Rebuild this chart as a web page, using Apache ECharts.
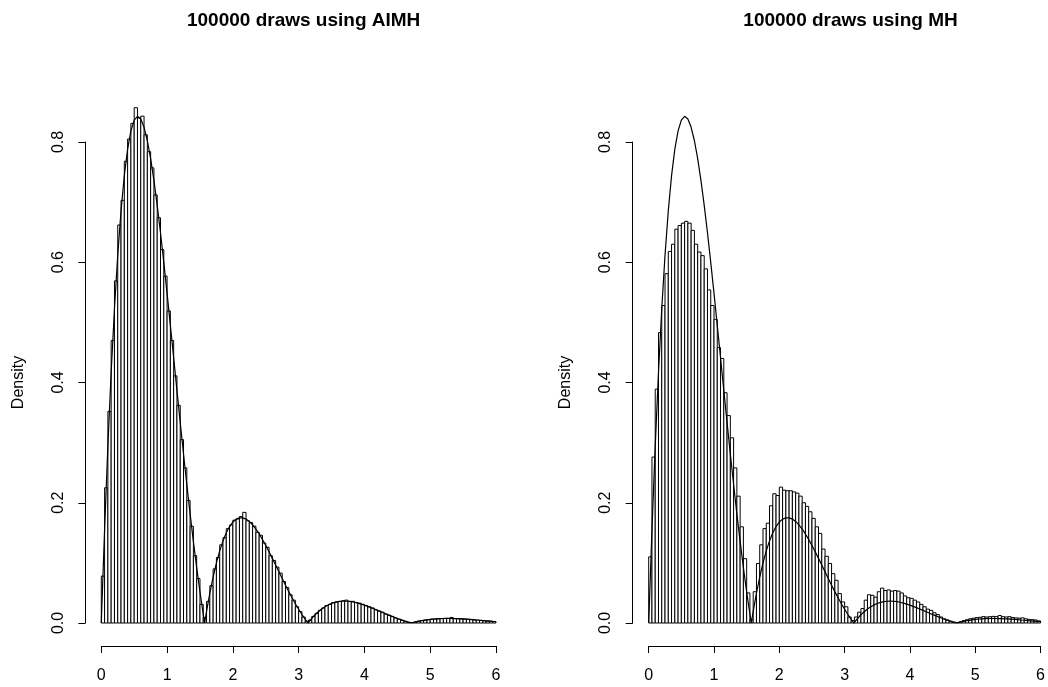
<!DOCTYPE html>
<html>
<head>
<meta charset="utf-8">
<script src="https://cdn.jsdelivr.net/npm/echarts@6/dist/echarts.min.js"></script>
<style>
  html, body { margin: 0; padding: 0; background: #ffffff; }
  #chart { width: 1048px; height: 687px; }
</style>
</head>
<body>
<div id="chart"></div>
<script>
// Histogram bins: 120 bins of width 0.05 covering [0, 6]
const binWidth = 0.05;
const binStart = 0;

// Panel titles and axis text
const panelTitles = ['100000 draws using AIMH', '100000 draws using MH'];
const yAxisName = 'Density';
const xTicks = [0, 1, 2, 3, 4, 5, 6];
const yTicks = [0, 0.2, 0.4, 0.6, 0.8];

// Bin densities of the AIMH sample
const aimhDensity = [
  0.078, 0.225, 0.352, 0.470, 0.569, 0.662, 0.703, 0.768, 0.805, 0.831,
  0.857, 0.840, 0.843, 0.812, 0.784, 0.757, 0.712, 0.674, 0.621, 0.577,
  0.519, 0.470, 0.411, 0.362, 0.305, 0.258, 0.204, 0.161, 0.112, 0.074,
  0.031, 0.009, 0.036, 0.062, 0.090, 0.109, 0.130, 0.142, 0.157, 0.163,
  0.171, 0.173, 0.177, 0.184, 0.170, 0.167, 0.161, 0.151, 0.146, 0.133,
  0.126, 0.112, 0.104, 0.093, 0.083, 0.069, 0.059, 0.047, 0.038, 0.027,
  0.019, 0.010, 0.003, 0.005, 0.011, 0.016, 0.021, 0.025, 0.029, 0.031,
  0.034, 0.035, 0.036, 0.037, 0.038, 0.036, 0.036, 0.034, 0.033, 0.031,
  0.029, 0.027, 0.025, 0.022, 0.020, 0.018, 0.015, 0.013, 0.011, 0.0085,
  0.0065, 0.0046, 0.0028, 0.0012, 0.0008, 0.0018, 0.0031, 0.0040, 0.0049, 0.0056,
  0.0063, 0.0068, 0.0071, 0.0075, 0.0076, 0.0077, 0.0092, 0.0074, 0.0073, 0.0069,
  0.0066, 0.0062, 0.0057, 0.0053, 0.0048, 0.0044, 0.0039, 0.0034, 0.0029, 0.0023
];

// Bin densities of the MH sample
const mhDensity = [
  0.110, 0.276, 0.389, 0.483, 0.528, 0.581, 0.618, 0.630, 0.655, 0.661,
  0.665, 0.668, 0.665, 0.653, 0.630, 0.617, 0.611, 0.589, 0.554, 0.528,
  0.505, 0.458, 0.440, 0.383, 0.345, 0.308, 0.258, 0.211, 0.160, 0.107,
  0.050, 0.006, 0.052, 0.099, 0.130, 0.157, 0.166, 0.195, 0.215, 0.212,
  0.226, 0.221, 0.220, 0.220, 0.218, 0.216, 0.211, 0.200, 0.194, 0.185,
  0.174, 0.160, 0.149, 0.123, 0.111, 0.099, 0.082, 0.071, 0.049, 0.035,
  0.027, 0.010, 0.004, 0.010, 0.018, 0.024, 0.038, 0.047, 0.046, 0.043,
  0.052, 0.058, 0.054, 0.055, 0.053, 0.054, 0.053, 0.050, 0.045, 0.042,
  0.041, 0.038, 0.035, 0.031, 0.027, 0.023, 0.021, 0.017, 0.014, 0.010,
  0.007, 0.005, 0.003, 0.0015, 0.0006, 0.002, 0.004, 0.0055, 0.007, 0.008,
  0.009, 0.0095, 0.0105, 0.010, 0.0105, 0.011, 0.0105, 0.0125, 0.0105, 0.010,
  0.0105, 0.009, 0.0085, 0.008, 0.0085, 0.007, 0.006, 0.0055, 0.005, 0.0035
];

// Target density curve (x positions and heights)
const curveX = [
  0, 0.05, 0.1, 0.15, 0.2, 0.25, 0.3, 0.35, 0.4, 0.45,
  0.5, 0.55, 0.6, 0.65, 0.7, 0.75, 0.8, 0.85, 0.9, 0.95,
  1.0, 1.05, 1.1, 1.15, 1.2, 1.25, 1.3, 1.35, 1.4, 1.45,
  1.5, 1.55, 1.571, 1.6, 1.65, 1.7, 1.75, 1.8, 1.85, 1.9, 1.95,
  2.0, 2.05, 2.1, 2.15, 2.2, 2.25, 2.3, 2.35, 2.4, 2.45,
  2.5, 2.55, 2.6, 2.65, 2.7, 2.75, 2.8, 2.85, 2.9, 2.95,
  3.0, 3.05, 3.1, 3.142, 3.15, 3.2, 3.25, 3.3, 3.35, 3.4, 3.45,
  3.5, 3.55, 3.6, 3.65, 3.7, 3.75, 3.8, 3.85, 3.9, 3.95,
  4.0, 4.05, 4.1, 4.15, 4.2, 4.25, 4.3, 4.35, 4.4, 4.45,
  4.5, 4.55, 4.6, 4.65, 4.7, 4.712, 4.75, 4.8, 4.85, 4.9, 4.95,
  5.0, 5.05, 5.1, 5.15, 5.2, 5.25, 5.3, 5.35, 5.4, 5.45,
  5.5, 5.55, 5.6, 5.65, 5.7, 5.75, 5.8, 5.85, 5.9, 5.95, 6.0
];
const curveY = [
  0, 0.1556, 0.2946, 0.4169, 0.5226, 0.6120, 0.6856, 0.7441, 0.7881, 0.8186,
  0.8365, 0.8427, 0.8384, 0.8245, 0.8021, 0.7723, 0.7361, 0.6947, 0.6490, 0.5998,
  0.5483, 0.4951, 0.4411, 0.3870, 0.3334, 0.2810, 0.2303, 0.1816, 0.1354, 0.0920,
  0.0516, 0.0145, 0, 0.0193, 0.0497, 0.0765, 0.0999, 0.1199, 0.1365, 0.1500, 0.1604,
  0.1679, 0.1727, 0.1749, 0.1749, 0.1728, 0.1689, 0.1633, 0.1563, 0.1481, 0.1390,
  0.1290, 0.1185, 0.1075, 0.0964, 0.0851, 0.0739, 0.0629, 0.0522, 0.0419, 0.0321,
  0.0228, 0.0141, 0.0061, 0, 0.0012, 0.0078, 0.0137, 0.0188, 0.0233, 0.0270, 0.0301,
  0.0325, 0.0343, 0.0355, 0.0362, 0.0364, 0.0362, 0.0355, 0.0345, 0.0331, 0.0315,
  0.0297, 0.0277, 0.0256, 0.0233, 0.0210, 0.0187, 0.0163, 0.0140, 0.0118, 0.0096,
  0.0075, 0.0055, 0.0037, 0.0019, 0.0004, 0, 0.0011, 0.0024, 0.0035, 0.0045, 0.0053,
  0.0060, 0.0066, 0.0070, 0.0073, 0.0075, 0.0076, 0.0075, 0.0074, 0.0073, 0.0070,
  0.0067, 0.0063, 0.0059, 0.0055, 0.0050, 0.0046, 0.0041, 0.0036, 0.0031, 0.0026, 0.0022
];

const FONT = 'Liberation Sans, Arial, Helvetica, sans-serif';

// [left edge, right edge, density] rows for the custom histogram series
function binRows(densities) {
  return densities.map((d, i) => [binStart + i * binWidth, binStart + (i + 1) * binWidth, d]);
}
const curveData = curveX.map((x, i) => [x, curveY[i]]);

function renderBin(params, api) {
  const topLeft = api.coord([api.value(0), api.value(2)]);
  const bottomRight = api.coord([api.value(1), 0]);
  return {
    type: 'rect',
    shape: {
      x: topLeft[0],
      y: topLeft[1],
      width: bottomRight[0] - topLeft[0],
      height: bottomRight[1] - topLeft[1]
    },
    style: { fill: '#ffffff', stroke: '#000000', lineWidth: 1 }
  };
}

// Plot regions (pixel layout of the two panels)
const panels = [
  { left: 101.3, width: 394.7 },
  { left: 648.7, width: 393.6 }
];
const plotTop = 142;
const plotHeight = 481;

const grids = panels.map(p => ({
  left: p.left, width: p.width, top: plotTop, height: plotHeight, containLabel: false
}));

const xAxes = panels.map((p, i) => ({
  type: 'value', gridIndex: i, min: xTicks[0], max: xTicks[xTicks.length - 1], interval: 1,
  offset: 23,
  axisLine: { show: true, onZero: false, lineStyle: { color: '#000', width: 1 } },
  axisTick: { show: true, length: 7, lineStyle: { color: '#000', width: 1 } },
  axisLabel: { color: '#000', fontSize: 16, fontFamily: FONT, margin: 22 },
  splitLine: { show: false }
}));

const yAxes = panels.map((p, i) => ({
  type: 'value', gridIndex: i, min: yTicks[0], max: yTicks[yTicks.length - 1], interval: 0.2,
  offset: 16,
  name: yAxisName, nameLocation: 'middle', nameGap: 59, nameRotate: 90,
  nameTextStyle: { color: '#000', fontSize: 16, fontFamily: FONT },
  axisLine: { show: true, onZero: false, lineStyle: { color: '#000', width: 1 } },
  axisTick: { show: true, length: 7, lineStyle: { color: '#000', width: 1 } },
  axisLabel: {
    color: '#000', fontSize: 16, fontFamily: FONT, margin: 19, rotate: 90,
    formatter: v => v.toFixed(1)
  },
  splitLine: { show: false }
}));

const titles = panels.map((p, i) => ({
  text: panelTitles[i],
  left: p.left + p.width / 2,
  top: 5,
  textAlign: 'center',
  textStyle: { color: '#000', fontSize: 19, fontWeight: 'bold', fontFamily: FONT, lineHeight: 22 }
}));

const samples = [aimhDensity, mhDensity];
const series = [];
samples.forEach((s, i) => {
  series.push({
    type: 'custom', xAxisIndex: i, yAxisIndex: i,
    renderItem: renderBin, data: binRows(s), clip: false, silent: true,
    encode: { x: [0, 1], y: 2 }
  });
  series.push({
    type: 'line', xAxisIndex: i, yAxisIndex: i, data: curveData,
    showSymbol: false, symbol: 'none', clip: false, silent: true, smooth: false,
    lineStyle: { color: '#000', width: 1.2 }, z: 5
  });
});

const chart = echarts.init(document.getElementById('chart'), null, { renderer: 'canvas' });
chart.setOption({
  animation: false,
  backgroundColor: '#ffffff',
  title: titles,
  grid: grids,
  xAxis: xAxes,
  yAxis: yAxes,
  series: series
});
</script>
</body>
</html>
